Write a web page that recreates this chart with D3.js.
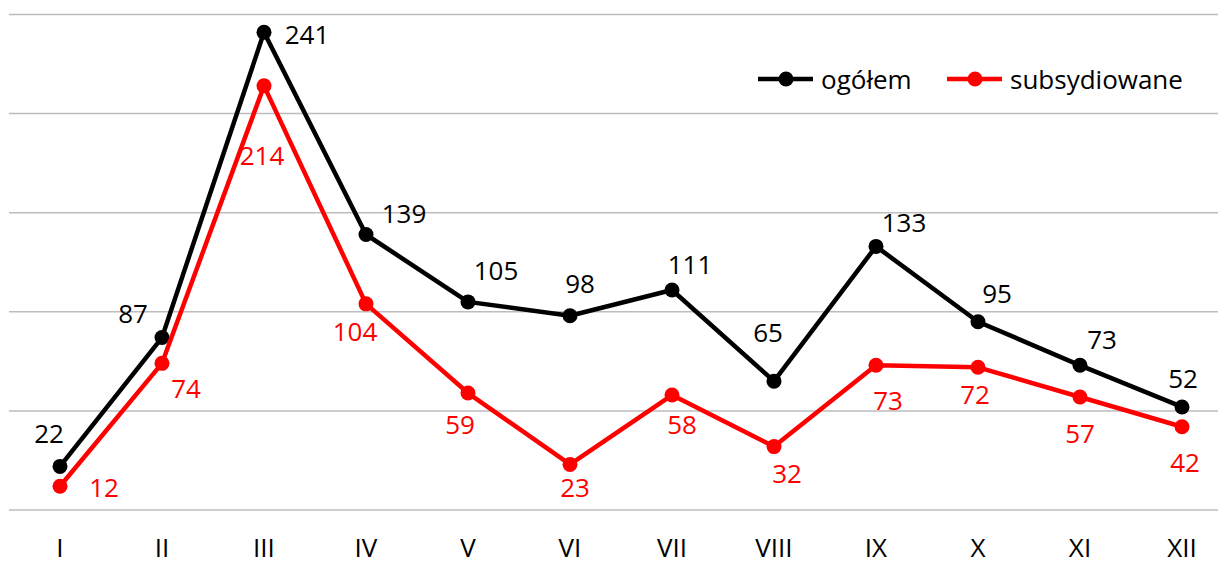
<!DOCTYPE html>
<html>
<head>
<meta charset="utf-8">
<script src="https://cdn.jsdelivr.net/npm/d3@7"></script>
<style>
  body { margin: 0; background: #fff; }
  svg text { font-family: "Open Sans", sans-serif; }
</style>
</head>
<body>
<svg></svg>
<script>
const months = ["I","II","III","IV","V","VI","VII","VIII","IX","X","XI","XII"]
const ogolem = [22, 87, 241, 139, 105, 98, 111, 65, 133, 95, 73, 52]
const subsydiowane = [12, 74, 214, 104, 59, 23, 58, 32, 73, 72, 57, 42]
const yTicks = [0, 50, 100, 150, 200, 250]

// label offsets from the marker, picked by hand like in the original
const offBlack = [[-11,-33],[-29,-25],[43,2],[38,-22],[28,-32],[10,-33],[18,-26],[-6,-49],[28,-24],[19,-29],[22,-26],[1,-29]]
const offRed = [[44,1],[24,25],[-2,69],[-11,27],[-8,31],[5,23],[10,29],[13,26],[12,35],[-3,27],[0,36],[3,35]]

const width = 1218, height = 566
const fs = "26px"

const svg = d3.select("svg")
    .attr("width", width)
    .attr("height", height)

const x = d3.scalePoint()
    .domain(months)
    .range([60, 1182])

const y = d3.scaleLinear()
    .domain([0, 250])
    .range([510, 14.5])

svg.selectAll("line.grid")
   .data(yTicks)
   .join("line")
   .attr("class", "grid")
   .attr("x1", 9).attr("x2", width)
   .attr("y1", d => y(d)).attr("y2", d => y(d))
   .attr("stroke", "#bdbdbd")
   .attr("stroke-width", 1.5)

svg.selectAll("text.month")
   .data(months)
   .join("text")
   .attr("class", "month")
   .attr("x", d => x(d))
   .attr("y", 557)
   .attr("text-anchor", "middle")
   .attr("font-size", fs)
   .attr("fill", "#000")
   .text(d => d)

const line = d3.line()
    .x((d, i) => x(months[i]))
    .y(d => y(d))

const series = [
  {name: "ogółem", values: ogolem, color: "#000000", off: offBlack},
  {name: "subsydiowane", values: subsydiowane, color: "#ff0000", off: offRed}
]

series.forEach(s => {
  svg.append("path")
     .datum(s.values)
     .attr("d", line)
     .attr("fill", "none")
     .attr("stroke", s.color)
     .attr("stroke-width", 4.5)
     .attr("stroke-linejoin", "round")

  svg.selectAll(null)
     .data(s.values)
     .join("circle")
     .attr("cx", (d, i) => x(months[i]))
     .attr("cy", d => y(d))
     .attr("r", 7.5)
     .attr("fill", s.color)

  svg.selectAll(null)
     .data(s.values)
     .join("text")
     .attr("x", (d, i) => x(months[i]) + s.off[i][0])
     .attr("y", (d, i) => y(d) + s.off[i][1])
     .attr("text-anchor", "middle")
     .attr("dominant-baseline", "central")
     .attr("font-size", fs)
     .attr("fill", s.color)
     .text(d => d)
})

// legend
const legend = svg.append("g")
const legendX = [758, 947]
series.forEach((s, i) => {
  const g = legend.append("g").attr("transform", `translate(${legendX[i]},79)`)
  g.append("line")
   .attr("x1", 0).attr("x2", 55)
   .attr("stroke", s.color)
   .attr("stroke-width", 4.5)
  g.append("circle")
   .attr("cx", 28).attr("r", 7.5)
   .attr("fill", s.color)
  g.append("text")
   .attr("x", 63)
   .attr("dominant-baseline", "central")
   .attr("font-size", fs)
   .attr("fill", "#000")
   .text(s.name)
})
</script>
</body>
</html>
